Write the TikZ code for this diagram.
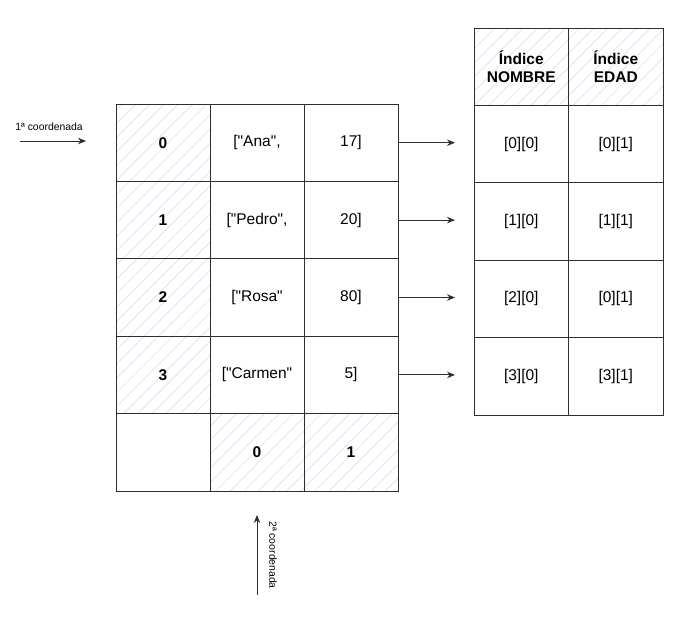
\documentclass[tikz,border=0pt]{standalone}
\usepackage{fontspec}
\setmainfont{Liberation Sans}[Ligatures=TeXOff]
\usetikzlibrary{arrows.meta,patterns.meta,positioning}

\definecolor{gridline}{HTML}{2E2E2E}
\definecolor{hatch}{RGB}{218,213,234}

\tikzset{
  cell/.style={draw=gridline, line width=0.9pt, minimum width=94pt, minimum height=77.4pt,
    inner sep=0pt, outer sep=0pt, align=center, font=\fontsize{15.5}{17.5}\selectfont},
  hatched/.style={pattern={Lines[angle=45,distance=10pt,line width=0.5pt]}, pattern color=hatch},
  idx/.style={font=\fontsize{15.5}{18}\selectfont\bfseries},
  link/.style={draw=gridline, line width=0.9pt, -{Stealth[length=8pt,width=6.5pt]}},
  caption/.style={font=\fontsize{10.4}{12}\selectfont, inner sep=0pt}
}

\begin{document}
\begin{tikzpicture}[x=1pt, y=-1pt]
    \useasboundingbox (0,0) rectangle (684,622);

    % tabla de datos
    \node[cell, hatched, idx, anchor=north west] (l0i) at (116,104) {0};
    \node[cell, right=0pt of l0i] (l0n) {["Ana",};
    \node[cell, right=0pt of l0n] (l0e) {17]};

    \node[cell, hatched, idx, below=0pt of l0i] (l1i) {1};
    \node[cell, right=0pt of l1i] (l1n) {["Pedro",};
    \node[cell, right=0pt of l1n] (l1e) {20]};

    \node[cell, hatched, idx, below=0pt of l1i] (l2i) {2};
    \node[cell, right=0pt of l2i] (l2n) {["Rosa"};
    \node[cell, right=0pt of l2n] (l2e) {80]};

    \node[cell, hatched, idx, below=0pt of l2i] (l3i) {3};
    \node[cell, right=0pt of l3i] (l3n) {["Carmen"};
    \node[cell, right=0pt of l3n] (l3e) {5]};

    \node[cell, below=0pt of l3i] (l4i) {};
    \node[cell, hatched, idx, right=0pt of l4i] (l4n) {0};
    \node[cell, hatched, idx, right=0pt of l4n] (l4e) {1};

    % tabla de indices
    \node[cell, hatched, idx, minimum width=94.5pt, anchor=north west] (rh0) at (474,28) {Índice\\NOMBRE};
    \node[cell, hatched, idx, minimum width=94.5pt, right=0pt of rh0] (rh1) {Índice\\EDAD};
    \node[cell, minimum width=94.5pt, below=0pt of rh0] (r0a) {[0][0]};
    \node[cell, minimum width=94.5pt, right=0pt of r0a] (r0b) {[0][1]};
    \node[cell, minimum width=94.5pt, below=0pt of r0a] (r1a) {[1][0]};
    \node[cell, minimum width=94.5pt, right=0pt of r1a] (r1b) {[1][1]};
    \node[cell, minimum width=94.5pt, below=0pt of r1a] (r2a) {[2][0]};
    \node[cell, minimum width=94.5pt, right=0pt of r2a] (r2b) {[0][1]};
    \node[cell, minimum width=94.5pt, below=0pt of r2a] (r3a) {[3][0]};
    \node[cell, minimum width=94.5pt, right=0pt of r3a] (r3b) {[3][1]};

    % flechas entre tablas
    \foreach \r in {0,1,2,3}
      \draw[link, shorten >=19pt] (l\r e.east) -- (l\r e.east -| r0a.west);

    % coordenadas
    \coordinate (c1a) at (20,141);
    \coordinate (c1b) at (86,141);
    \draw[link] (c1a) -- (c1b);
    \node[caption] (c1) at (49,127) {1ª coordenada};

    \coordinate (c2a) at (257,595);
    \coordinate (c2b) at (257,515);
    \draw[link] (c2a) -- (c2b);
    \node[caption, rotate=-90] (c2) at (273,555) {2ª coordenada};
\end{tikzpicture}
\end{document}
